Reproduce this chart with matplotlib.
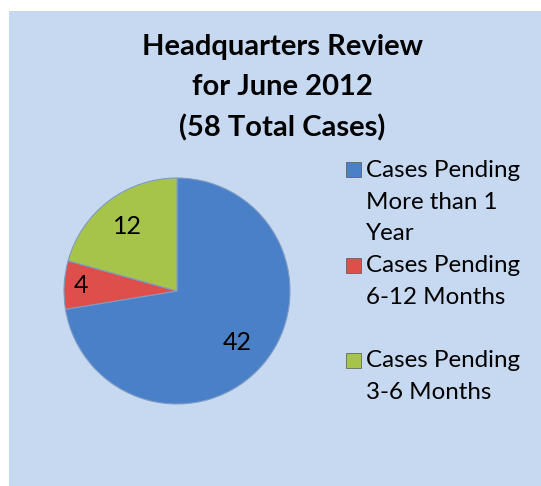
import matplotlib
matplotlib.use("Agg")
import matplotlib.pyplot as plt
from matplotlib.patches import Rectangle
import numpy as np

# ---- data ----
title = "Headquarters Review\nfor June 2012\n(58 Total Cases)"
categories = ["Cases Pending\nMore than 1\nYear", "Cases Pending\n6-12 Months", "Cases Pending\n3-6 Months"]
values = [42, 4, 12]
colors = ["#4A80C8", "#DE4E4A", "#A6C44A"]

W, H = 541, 486
DPI = 100
plt.rcParams['font.family'] = ['Lato', 'DejaVu Sans']
fig = plt.figure(figsize=(W / DPI, H / DPI), dpi=DPI, facecolor="white")

def fx(px):
    return px / W

def fy(py):
    return 1 - py / H

# background panel
fig.patches.append(Rectangle((fx(9), 0), 1 - fx(9), fy(11), transform=fig.transFigure,
                             facecolor="#C6D9F0", edgecolor="none", zorder=-5))

# title
fig.text(fx(282), fy(88), title, ha="center", va="center", fontsize=21, fontweight="bold",
         linespacing=1.66, color="black", zorder=3)

# pie
cx, cy, r = 177, 291, 113
ax = fig.add_axes([fx(cx - r), fy(cy + r), (2 * r) / W, (2 * r) / H], zorder=2)
ax.set_facecolor("none")
total = sum(values)
wedges, texts, autotexts = ax.pie(
    values, colors=colors, startangle=90, counterclock=False,
    autopct=lambda p: f"{round(p * total / 100)}", pctdistance=0.72,
    wedgeprops=dict(edgecolor="#7E9CC4", linewidth=0.8),
    textprops=dict(fontsize=18, color="black"))
label_dist = [0.70, 0.85, 0.72]
for w, t, d in zip(wedges, autotexts, label_dist):
    ang = np.deg2rad((w.theta1 + w.theta2) / 2)
    t.set_position((d * np.cos(ang), d * np.sin(ang)))
ax.set_xlim(-1.0, 1.0)
ax.set_ylim(-1.0, 1.0)
ax.set_aspect("equal")
ax.axis("off")

# legend (manual, Excel-like spacing)
entry_top = [160, 255, 350]
for lab, col, yt in zip(categories, colors, entry_top):
    fig.text(fx(366), fy(yt), lab, ha="left", va="top", fontsize=17.4,
             linespacing=1.62, color="black", zorder=3)
    fig.patches.append(Rectangle((fx(346), fy(yt + 17.5)), 15 / W, 15 / H,
                                 transform=fig.transFigure, facecolor=col,
                                 edgecolor="#555555", linewidth=0.5, zorder=3))

fig.savefig("out.png", dpi=DPI, facecolor="white")
